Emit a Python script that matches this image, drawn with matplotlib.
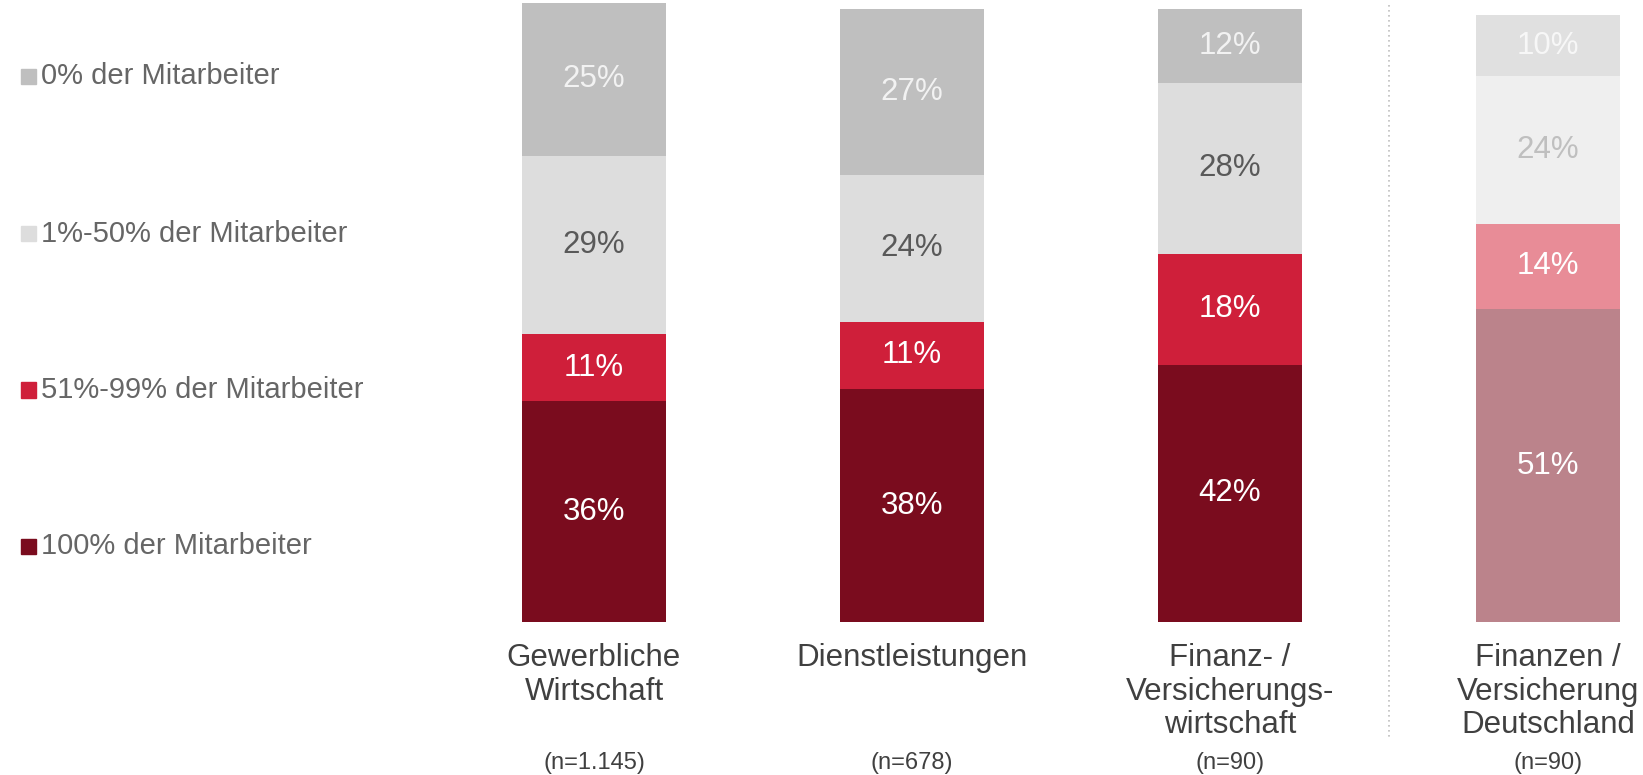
import matplotlib
matplotlib.use('Agg')
import matplotlib.pyplot as plt
from matplotlib.patches import Rectangle
import matplotlib.transforms as mtransforms

plt.rcParams['font.family'] = ['Liberation Sans', 'DejaVu Sans']

# ---- data ----
categories = ['Gewerbliche\nWirtschaft', 'Dienstleistungen',
              'Finanz- /\nVersicherungs-\nwirtschaft',
              'Finanzen /\nVersicherung\nDeutschland']
sample_sizes = ['(n=1.145)', '(n=678)', '(n=90)', '(n=90)']
series_labels = ['100% der Mitarbeiter', '51%-99% der Mitarbeiter',
                 '1%-50% der Mitarbeiter', '0% der Mitarbeiter']
val_100 = [36, 38, 42, 51]
val_51_99 = [11, 11, 18, 14]
val_1_50 = [29, 24, 28, 24]
val_0 = [25, 27, 12, 10]
series_values = [val_100, val_51_99, val_1_50, val_0]

# ---- styles ----
W, H = 1643, 775
base_colors = ['#7A0C1E', '#CF1F3A', '#DDDDDD', '#BFBFBF']
faded_colors = ['#BB838B', '#E88C97', '#EFEFEF', '#E0E0E0']
base_text = ['white', 'white', '#595959', '#F2F2F2']
faded_text = ['white', 'white', '#BFBFBF', '#F7F7F7']
faded_bar = 3

fig = plt.figure(figsize=(W / 100, H / 100), dpi=100)
ax_bottom = 622
ax_top = 9
ax = fig.add_axes([435 / W, (H - ax_bottom) / H, (W - 435) / W, (ax_bottom - ax_top) / H])
x = list(range(len(categories)))
ax.set_xlim(-0.5, (W - 594) / 318)
ax.set_ylim(0, 100)
ax.axis('off')

width = 144 / 318
bottoms = [0] * len(x)
for s, vals in enumerate(series_values):
    cols = [faded_colors[s] if i == faded_bar else base_colors[s] for i in x]
    ax.bar(x, vals, width=width, bottom=bottoms, color=cols, edgecolor='none',
           clip_on=False)
    for i in x:
        tc = faded_text[s] if i == faded_bar else base_text[s]
        ax.text(i, bottoms[i] + vals[i] / 2, f'{vals[i]}%', ha='center', va='center',
                fontsize=22.5, color=tc, clip_on=False)
    bottoms = [b + v for b, v in zip(bottoms, vals)]

blend = mtransforms.blended_transform_factory(ax.transData, fig.transFigure)
for i in x:
    ax.text(i, 1 - 643 / H, categories[i], transform=blend, ha='center', va='top',
            fontsize=22.5, color='#404040', linespacing=1.16)
    ax.text(i, 1 - 763 / H, sample_sizes[i], transform=blend, ha='center',
            va='center', fontsize=17, color='#404040')

# dotted separator
ax.plot([2.5, 2.5], [1 - 5 / H, 1 - 739 / H], transform=blend, color='#BFBFBF',
        linestyle=(0, (1, 2)), lw=1.2, clip_on=False)

# legend (top entry = last series)
legend_y = [76.5, 234, 390, 546]
for k, s in enumerate(reversed(range(len(series_labels)))):
    yc = legend_y[k]
    fig.patches.append(Rectangle((21 / W, 1 - (yc + 7.5) / H), 15 / W, 15 / H,
                                 transform=fig.transFigure, color=base_colors[s]))
    fig.text(41 / W, 1 - yc / H, series_labels[s], ha='left', va='center',
             fontsize=21, color='#666666')

fig.savefig('out.png', dpi=100)
